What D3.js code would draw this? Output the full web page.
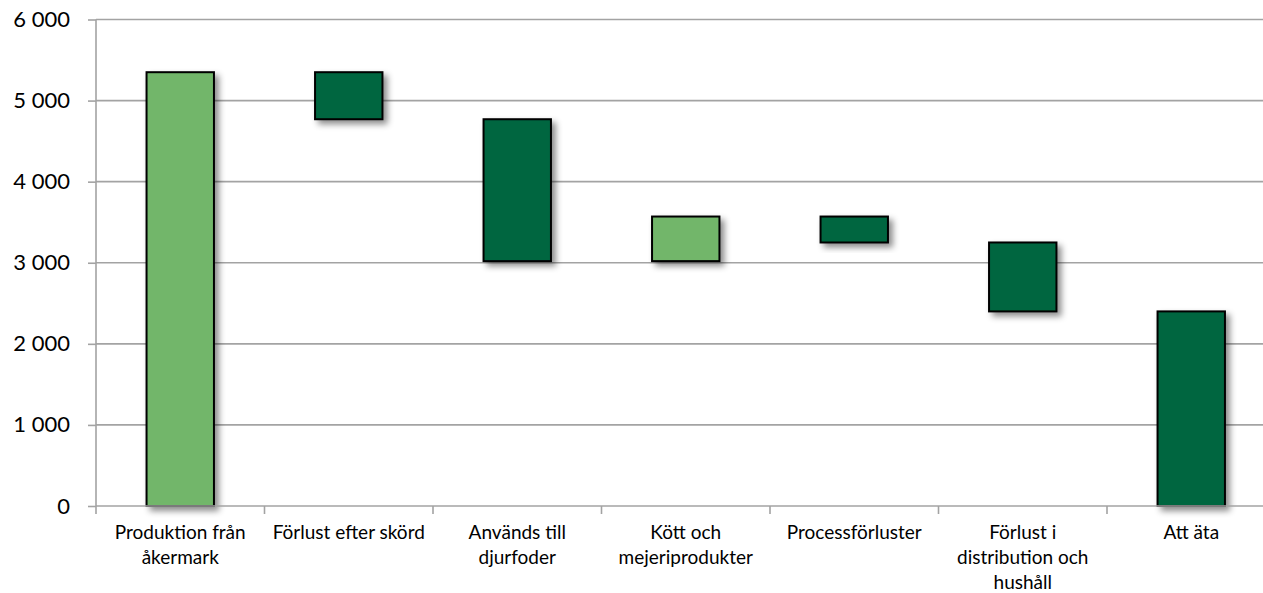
<!DOCTYPE html>
<html><head><meta charset="utf-8">
<script src="https://cdn.jsdelivr.net/npm/d3@7"></script>
<style>body{margin:0;background:#fff;overflow:hidden}svg{display:block}</style>
</head><body><svg id="c" width="1263" height="593"></svg>
<script>
const categories = [["Produktion från","åkermark"],["Förlust efter skörd"],["Används till","djurfoder"],["Kött och","mejeriprodukter"],["Processförluster"],["Förlust i","distribution och","hushåll"],["Att äta"]];
const changes = [5350, -580, -1750, 550, -320, -850, 2400];
const kinds = ["total","loss","loss","gain","loss","loss","total"];
const yTicks = [0,1000,2000,3000,4000,5000,6000];

const svg = d3.select("#c");
const W=1263,H=593;
const x0=96, step=168.5, y0=506, yTop=19.5;
const x = d3.scaleBand().domain(d3.range(categories.length)).range([x0, x0+step*categories.length]).paddingInner(0.6).paddingOuter(0.3);
const y = d3.scaleLinear().domain([0,6000]).range([y0,yTop]);

const defs = svg.append("defs");
const f = defs.append("filter").attr("id","sh").attr("x","-30%").attr("y","-30%").attr("width","170%").attr("height","170%");
f.append("feDropShadow").attr("dx",4).attr("dy",4).attr("stdDeviation",3).attr("flood-color","#000").attr("flood-opacity",0.45);

// gridlines
svg.append("g").selectAll("line").data(yTicks.filter(d=>d>0)).join("line")
  .attr("x1",x0).attr("x2",W).attr("y1",d=>y(d)).attr("y2",d=>y(d))
  .attr("stroke","#a3a3a3").attr("stroke-width",1.6);

// y axis
const fmt = d=>d3.format(",")(d).replace(/,/g," ");
const ya = svg.append("g").attr("transform",`translate(${x0},0)`)
  .call(d3.axisLeft(y).tickValues(yTicks).tickFormat(fmt).tickSize(8).tickPadding(18));
ya.select(".domain").attr("stroke","#a3a3a3").attr("stroke-width",1.6).attr("d",`M0,${y0}V${yTop}`);
ya.selectAll(".tick line").attr("stroke","#a3a3a3").attr("stroke-width",1.6);
ya.selectAll(".tick text").attr("font-family","Lato, 'Open Sans', sans-serif").attr("font-size",22).attr("fill","#000");

// bars
let cum=0;
const bars = changes.map((v,i)=>{
  let lo,hi;
  if(kinds[i]==="total"){lo=0;hi=v;cum=v;}
  else {const n=cum+v; lo=Math.min(cum,n); hi=Math.max(cum,n); cum=n;}
  return {i,lo,hi,kind:kinds[i]};
});
const color = {total:"#72B66B", gain:"#72B66B", loss:"#046640"};
color.total = null;
svg.append("g").selectAll("rect").data(bars).join("rect")
  .attr("x",d=>x(d.i)).attr("width",x.bandwidth())
  .attr("y",d=>y(d.hi)).attr("height",d=>y(d.lo)-y(d.hi))
  .attr("fill",d=>d.kind==="loss"||(d.kind==="total"&&d.i>0)?"#046640":"#72B66B")
  .attr("stroke","#000").attr("stroke-width",2)
  .attr("filter","url(#sh)");

// x axis
svg.append("line").attr("x1",x0).attr("x2",W).attr("y1",y0).attr("y2",y0).attr("stroke","#a3a3a3").attr("stroke-width",1.6);
svg.append("g").selectAll("line").data(d3.range(categories.length+1)).join("line")
  .attr("x1",d=>x0+d*x.step()).attr("x2",d=>x0+d*x.step()).attr("y1",y0).attr("y2",y0+8)
  .attr("stroke","#a3a3a3").attr("stroke-width",1.6);
const lab = svg.append("g").selectAll("text").data(categories).join("text")
  .attr("x",(d,i)=>x(i)+x.bandwidth()/2).attr("y",539)
  .attr("text-anchor","middle").attr("font-family","Lato, 'Open Sans', sans-serif").attr("font-size",19).attr("fill","#000");
lab.selectAll("tspan").data(d=>d).join("tspan")
  .attr("x",function(){return this.parentNode.getAttribute("x");})
  .attr("dy",(d,j)=>j===0?0:25).text(d=>d);
</script></body></html>
